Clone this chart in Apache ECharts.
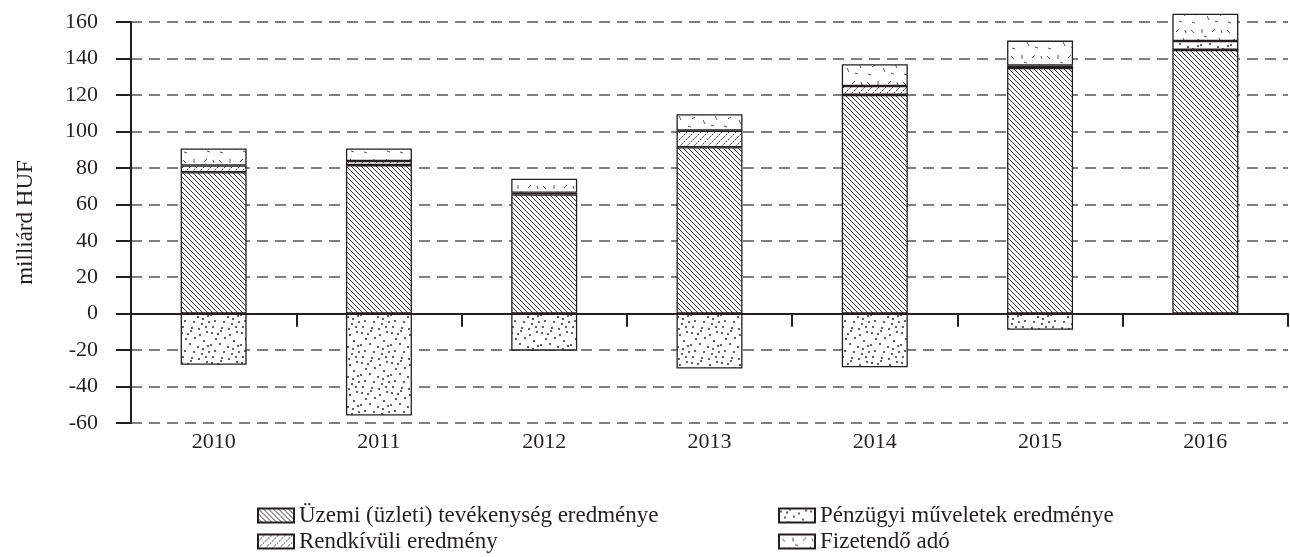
<!DOCTYPE html>
<html>
<head>
<meta charset="utf-8">
<script src="https://cdn.jsdelivr.net/npm/echarts@6/dist/echarts.min.js"></script>
<style>html,body{margin:0;padding:0;background:#fff}#c{width:1290px;height:557px}</style>
</head>
<body>
<div id="c"></div>
<script>
const years = ['2010','2011','2012','2013','2014','2015','2016'];
const uzemi = [77.6, 81.5, 65.4, 91.3, 120.0, 134.8, 144.7];
const rendkivuli = [3.7, 2.2, 0.9, 9.1, 4.9, 1.3, 0];
const penzugyi = [-28.1, -55.9, -20.3, -30.1, -29.4, -8.9, 4.9];
const ado = [9.3, 6.9, 7.7, 9.0, 11.9, 13.7, 14.9];
const yTicks = { min: -60, max: 160, interval: 20 };
const names = ['Üzemi (üzleti) tevékenység eredménye','Rendkívüli eredmény','Pénzügyi műveletek eredménye','Fizetendő adó'];

const INK = '#231f20';
const FONT = '"Liberation Serif", "Times New Roman", serif';

function tile(w, h, draw) {
  const c = document.createElement('canvas');
  c.width = w; c.height = h;
  const ctx = c.getContext('2d');
  ctx.fillStyle = '#fff'; ctx.fillRect(0, 0, w, h);
  ctx.strokeStyle = INK; ctx.fillStyle = INK;
  draw(ctx, w, h);
  return { image: c, repeat: 'repeat' };
}
const patHatch = tile(5, 5, (ctx, s) => {
  ctx.lineWidth = 0.9;
  for (let k = -1; k <= 1; k++) { ctx.beginPath(); ctx.moveTo(k*s, 0); ctx.lineTo(k*s + s, s); ctx.stroke(); }
});
const patDashHatch = tile(7, 7, (ctx, s) => {
  ctx.lineWidth = 0.9;
  ctx.setLineDash([2.2, 1.1]);
  for (let k = -1; k <= 1; k++) { ctx.beginPath(); ctx.moveTo(k*s, s); ctx.lineTo(k*s + s, 0); ctx.stroke(); }
});
const patDots = tile(30, 30, (ctx) => {
  const pts = [[2,3],[11,1],[20,5],[27,2],[6,9],[15,8],[24,11],[1,15],[10,14],[18,17],[28,16],[5,21],[14,22],[22,24],[29,22],[3,27],[12,28],[19,29],[26,27],[8,4],[23,19]];
  pts.forEach(p => { ctx.beginPath(); ctx.arc(p[0], p[1], 0.95, 0, Math.PI*2); ctx.fill(); });
});
const patTax = tile(36, 26, (ctx) => {
  ctx.lineWidth = 0.9; ctx.strokeStyle = '#444';
  const segs = [[3,4,6,7],[14,3,14,7],[24,6,27,3],[31,12,33,16],[8,15,11,13],[19,16,21,20],[27,21,30,22],[4,22,7,23],[16,10,19,11],[33,4,34,7]];
  segs.forEach(s => { ctx.beginPath(); ctx.moveTo(s[0], s[1]); ctx.lineTo(s[2], s[3]); ctx.stroke(); });
});

function barSeries(name, data, pattern) {
  return {
    name, type: 'bar', stack: 'total', data,
    barWidth: 66, clip: false,
    itemStyle: { color: pattern, borderColor: INK, borderWidth: 1.3 },
    emphasis: { disabled: true }
  };
}

const legendBase = {
  orient: 'vertical', top: 499, height: 57, itemWidth: 36, itemHeight: 14, itemGap: 3, icon: 'rect',
  textStyle: { fontFamily: FONT, fontSize: 23, color: INK }
};

const chart = echarts.init(document.getElementById('c'));
chart.setOption({
  animation: false,
  backgroundColor: '#fff',
  grid: { left: 131, right: 2, top: 22, bottom: 134 },
  legend: [
    Object.assign({}, legendBase, { left: 252, data: [names[0], names[1]] }),
    Object.assign({}, legendBase, { left: 773, data: [names[2], names[3]] })
  ],
  xAxis: [
    { type: 'category', data: years, position: 'bottom',
      axisLine: { onZero: true, lineStyle: { color: INK, width: 2 } },
      axisTick: { show: true, length: 13, lineStyle: { color: INK, width: 2 } },
      axisLabel: { show: false }, splitLine: { show: false } },
    { type: 'category', data: years, position: 'bottom',
      axisLine: { show: false, onZero: false }, axisTick: { show: false },
      axisLabel: { fontFamily: FONT, fontSize: 22, color: INK, margin: 8 } }
  ],
  yAxis: {
    type: 'value', min: yTicks.min, max: yTicks.max, interval: yTicks.interval,
    name: 'milliárd HUF', nameLocation: 'middle', nameGap: 94,
    nameTextStyle: { fontFamily: FONT, fontSize: 23, color: INK },
    axisLine: { show: true, lineStyle: { color: INK, width: 2 } },
    axisTick: { show: true, length: 15, lineStyle: { color: INK, width: 2 } },
    axisLabel: { fontFamily: FONT, fontSize: 22, color: INK, margin: 33 },
    splitLine: { show: true, lineStyle: { color: '#555', width: 1.6, type: [11, 7] } }
  },
  series: [
    barSeries(names[0], uzemi, patHatch),
    barSeries(names[1], rendkivuli, patDashHatch),
    barSeries(names[2], penzugyi, patDots),
    barSeries(names[3], ado, patTax)
  ]
});
</script>
</body>
</html>
